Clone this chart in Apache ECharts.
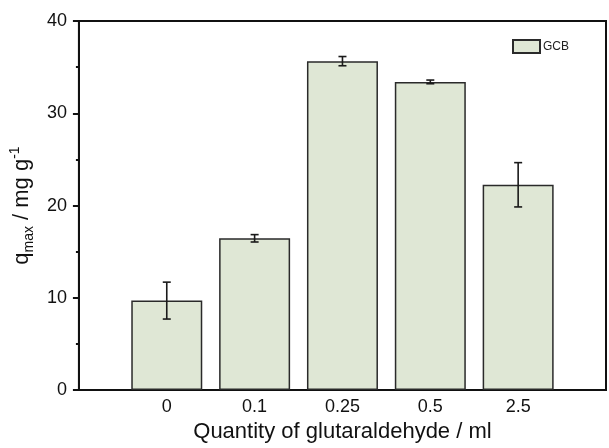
<!DOCTYPE html>
<html>
<head>
<meta charset="utf-8">
<script src="https://cdn.jsdelivr.net/npm/echarts@6/dist/echarts.min.js"></script>
<style>
  html, body { margin: 0; padding: 0; background: #fff; }
  #chart { width: 609px; height: 448px; }
</style>
</head>
<body>
<div id="chart"></div>
<script>
// Glutaraldehyde dose (ml) and maximum adsorption capacity q_max (mg/g)
const categories = ['0', '0.1', '0.25', '0.5', '2.5'];
const qmax = [9.7, 16.45, 35.65, 33.4, 22.25];
const qerr = [2.0, 0.4, 0.5, 0.2, 2.4];
const yTicks = [0, 10, 20, 30, 40];

const FONT = '"Liberation Sans", Arial, Helvetica, sans-serif';
const INK = '#111';

const barData = qmax.map((v, i) => [i, v]);
const errData = qmax.map((v, i) => [i, v - qerr[i], v + qerr[i]]);

const chart = echarts.init(document.getElementById('chart'), null, { renderer: 'canvas' });

chart.setOption({
  animation: false,
  backgroundColor: '#fff',
  textStyle: { fontFamily: FONT },
  grid: {
    left: 75, right: 2, top: 21, bottom: 54,
    show: true, borderColor: INK, borderWidth: 2, backgroundColor: 'transparent'
  },
  legend: {
    data: [{ name: 'GCB', icon: 'rect' }],
    left: 512, top: 39, padding: 0,
    itemWidth: 27, itemHeight: 13, itemGap: 4,
    textStyle: { fontSize: 12, color: '#222', fontFamily: FONT, padding: [0, 0, 0, -2] }
  },
  xAxis: {
    type: 'value',
    min: -1, max: 5, interval: 1,
    name: 'Quantity of glutaraldehyde / ml',
    nameLocation: 'middle',
    nameGap: 30,
    nameTextStyle: { fontSize: 22, color: INK, fontFamily: FONT, verticalAlign: 'top' },
    axisLine: { show: true, onZero: false, lineStyle: { color: INK, width: 2 } },
    axisTick: { show: false },
    splitLine: { show: false },
    axisLabel: {
      fontSize: 18, color: INK, margin: 8, fontFamily: FONT,
      formatter: (v) => (v >= 0 && v < categories.length ? categories[v] : '')
    }
  },
  yAxis: {
    type: 'value',
    min: yTicks[0], max: yTicks[yTicks.length - 1], interval: 10,
    name: '{q|q}{sub|max}{q| / mg g}{sup|-1}',
    nameLocation: 'middle',
    nameRotate: 90,
    nameGap: 38,
    nameTextStyle: {
      color: INK, fontFamily: FONT, fontSize: 22,
      rich: {
        q: { fontSize: 22, color: INK, fontFamily: FONT, lineHeight: 28 },
        sub: { fontSize: 14, color: INK, fontFamily: FONT, lineHeight: 14, verticalAlign: 'bottom' },
        sup: { fontSize: 14, color: INK, fontFamily: FONT, lineHeight: 14, verticalAlign: 'top' }
      }
    },
    axisLine: { show: true, onZero: false, lineStyle: { color: INK, width: 2 } },
    axisTick: { show: true, inside: false, length: 6, lineStyle: { color: INK, width: 2 } },
    minorTick: { show: true, splitNumber: 2, length: 3, lineStyle: { color: INK, width: 2 } },
    splitLine: { show: false },
    axisLabel: { fontSize: 18, color: INK, margin: 12, fontFamily: FONT }
  },
  series: [
    {
      name: 'GCB',
      type: 'bar',
      data: barData,
      barWidth: 71,
      itemStyle: { color: '#dfe7d5', borderColor: '#2a2a2a', borderWidth: 1.5 }
    },
    {
      name: 'error',
      type: 'custom',
      data: errData,
      z: 10,
      renderItem: (params, api) => {
        const x = api.value(0);
        const lo = api.coord([x, api.value(1)]);
        const hi = api.coord([x, api.value(2)]);
        const half = 4;
        const style = { stroke: '#1a1a1a', lineWidth: 1.6 };
        return {
          type: 'group',
          children: [
            { type: 'line', shape: { x1: lo[0], y1: lo[1], x2: hi[0], y2: hi[1] }, style },
            { type: 'line', shape: { x1: hi[0] - half, y1: hi[1], x2: hi[0] + half, y2: hi[1] }, style },
            { type: 'line', shape: { x1: lo[0] - half, y1: lo[1], x2: lo[0] + half, y2: lo[1] }, style }
          ]
        };
      }
    }
  ]
});
</script>
</body>
</html>
